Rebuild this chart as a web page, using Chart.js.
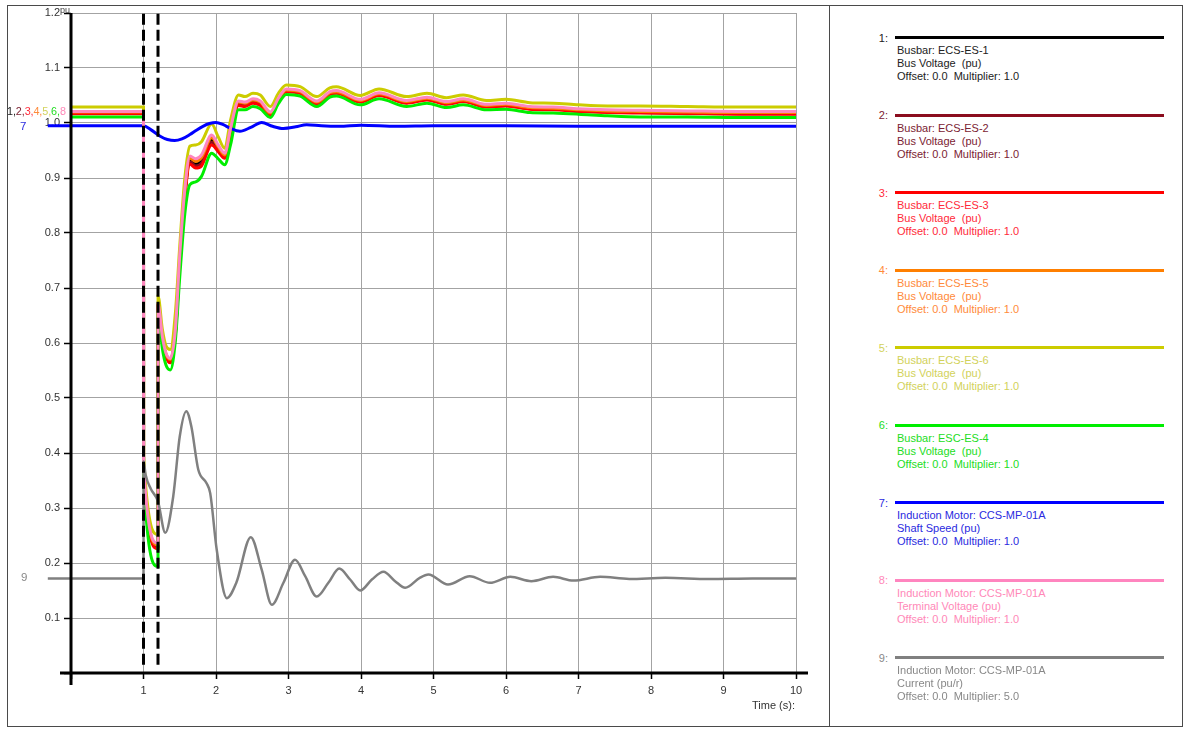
<!DOCTYPE html>
<html>
<head>
<meta charset="utf-8">
<script src="https://cdn.jsdelivr.net/npm/chart.js@4"></script>
<style>
html,body{margin:0;padding:0;background:#fff;}
body{width:1186px;height:729px;position:relative;overflow:hidden;font-family:"Liberation Sans",Arial,Helvetica,sans-serif;}
#frame{position:absolute;left:7px;top:5px;width:1176px;height:722px;border:1px solid #4a4a4a;box-sizing:border-box;}
#divider{position:absolute;left:829px;top:5px;width:1px;height:722px;background:#4a4a4a;}
#c{position:absolute;left:0;top:0;}
.lbl{position:absolute;font-size:11.5px;line-height:14px;white-space:nowrap;}
.grp{position:absolute;font-size:10.8px;line-height:14px;white-space:nowrap;letter-spacing:-0.1px;}
.lg-num{position:absolute;width:20px;text-align:right;font-size:11px;line-height:14px;}
.lg-line{position:absolute;height:3px;}
.lg-text{position:absolute;font-size:11px;line-height:13px;white-space:pre;}
#timeLbl{position:absolute;font-size:11px;color:#333;right:391px;top:699px;white-space:nowrap;}
</style>
</head>
<body>
<div id="frame"></div>
<div id="divider"></div>
<canvas id="c" width="829" height="729"></canvas>
<div id="labels"></div>
<div id="legend"></div>
<div id="timeLbl">Time (s):</div>
<script>
// ---------- DATA ----------
const xTicks = [1,2,3,4,5,6,7,8,9,10];
const yTicks = [0.1,0.2,0.3,0.4,0.5,0.6,0.7,0.8,0.9,1.0,1.1,1.2];

// Bus voltage time base (s)
const tV = [0, 1, 1.001, 1.2, 1.201, 1.26, 1.31, 1.37, 1.44, 1.5,
            1.57, 1.64, 1.72, 1.8, 1.94, 2.03, 2.12, 2.2, 2.31, 2.4,
            2.51, 2.61, 2.75, 2.86, 2.97, 3.16, 3.39, 3.57, 3.66, 3.99,
            4.25, 4.63, 4.91, 5.18, 5.41, 5.73, 6.0, 6.33, 6.65, 7.0,
            7.4, 7.85, 8.5, 9.2, 10];
// 1: Busbar ECS-ES-1 (black)
const v1 = [1.019, 1.019, 0.373, 0.231, 0.668, 0.609, 0.578, 0.568, 0.620, 0.752,
            0.872, 0.932, 0.926, 0.932, 0.969, 0.954, 0.940, 0.985, 1.036, 1.034,
            1.040, 1.036, 1.017, 1.042, 1.059, 1.056, 1.037, 1.054, 1.056, 1.040,
            1.052, 1.038, 1.044, 1.036, 1.041, 1.031, 1.033, 1.027, 1.026, 1.023,
            1.021, 1.020, 1.019, 1.018, 1.018];
// 2: Busbar ECS-ES-2 (dark red)
const v2 = [1.018, 1.018, 0.372, 0.229, 0.667, 0.608, 0.577, 0.566, 0.618, 0.749,
            0.868, 0.929, 0.922, 0.927, 0.965, 0.951, 0.938, 0.983, 1.034, 1.032,
            1.038, 1.034, 1.016, 1.041, 1.058, 1.055, 1.036, 1.053, 1.055, 1.039,
            1.051, 1.037, 1.043, 1.035, 1.040, 1.030, 1.032, 1.026, 1.025, 1.022,
            1.020, 1.019, 1.018, 1.017, 1.017];
// 3: Busbar ECS-ES-3 (red)
const v3 = [1.017, 1.017, 0.370, 0.226, 0.666, 0.606, 0.575, 0.564, 0.615, 0.745,
            0.865, 0.925, 0.918, 0.922, 0.960, 0.948, 0.936, 0.980, 1.032, 1.030,
            1.036, 1.032, 1.014, 1.040, 1.057, 1.054, 1.035, 1.052, 1.054, 1.038,
            1.050, 1.036, 1.042, 1.034, 1.039, 1.029, 1.031, 1.025, 1.024, 1.021,
            1.019, 1.018, 1.017, 1.016, 1.016];
// 4: Busbar ECS-ES-5 (orange)
const v4 = [1.020, 1.020, 0.374, 0.233, 0.669, 0.610, 0.580, 0.570, 0.622, 0.755,
            0.876, 0.936, 0.930, 0.937, 0.973, 0.957, 0.942, 0.987, 1.038, 1.036,
            1.042, 1.038, 1.018, 1.043, 1.060, 1.057, 1.038, 1.055, 1.057, 1.041,
            1.053, 1.039, 1.045, 1.037, 1.042, 1.032, 1.034, 1.028, 1.027, 1.024,
            1.022, 1.021, 1.020, 1.019, 1.019];
// 5: Busbar ECS-ES-6 (yellow)
const v5 = [1.029, 1.029, 0.392, 0.252, 0.685, 0.625, 0.595, 0.588, 0.655, 0.776,
            0.900, 0.958, 0.960, 0.966, 0.998, 0.975, 0.954, 1.005, 1.051, 1.048,
            1.054, 1.051, 1.030, 1.054, 1.069, 1.066, 1.048, 1.064, 1.066, 1.050,
            1.062, 1.048, 1.054, 1.046, 1.051, 1.041, 1.043, 1.037, 1.036, 1.033,
            1.031, 1.031, 1.030, 1.029, 1.029];
// 6: Busbar ESC-ES-4 (green)
const v6 = [1.011, 1.011, 0.355, 0.194, 0.656, 0.590, 0.560, 0.551, 0.605, 0.720,
            0.835, 0.888, 0.893, 0.903, 0.945, 0.935, 0.924, 0.960, 1.024, 1.024,
            1.030, 1.026, 1.010, 1.035, 1.052, 1.049, 1.030, 1.047, 1.049, 1.033,
            1.044, 1.030, 1.036, 1.028, 1.033, 1.024, 1.025, 1.019, 1.018, 1.016,
            1.013, 1.011, 1.011, 1.010, 1.010];
// 8: Motor terminal voltage (pink)
const v8 = [1.021, 1.021, 0.376, 0.236, 0.670, 0.612, 0.582, 0.572, 0.625, 0.760,
            0.880, 0.940, 0.935, 0.942, 0.978, 0.960, 0.945, 0.990, 1.040, 1.038,
            1.044, 1.040, 1.020, 1.045, 1.062, 1.059, 1.040, 1.057, 1.059, 1.043,
            1.055, 1.041, 1.047, 1.039, 1.044, 1.034, 1.036, 1.030, 1.029, 1.026,
            1.024, 1.023, 1.022, 1.021, 1.021];
// 7: Shaft speed (blue)
const tB = [-0.32, 1, 1.1, 1.23, 1.33, 1.43, 1.53, 1.64, 1.73, 1.82,
            1.91, 2.0, 2.1, 2.19, 2.33, 2.48, 2.63, 2.78, 2.93, 3.1,
            3.25, 3.45, 3.7, 4.0, 4.5, 5, 6, 7, 8, 9, 10];
const v7 = [0.995, 0.995, 0.988, 0.976, 0.970, 0.968, 0.971, 0.979, 0.987, 0.994,
            0.999, 1.001, 0.997, 0.991, 0.985, 0.992, 1.001, 0.994, 0.990, 0.993,
            0.997, 0.995, 0.994, 0.996, 0.994, 0.995, 0.995, 0.994, 0.994, 0.994, 0.994];
// 9: Motor current x5 (grey)
const tI = [-0.32, 1, 1.001, 1.03, 1.1, 1.2, 1.3, 1.41, 1.5, 1.59,
            1.66, 1.755, 1.87, 1.92, 2.01, 2.15, 2.28, 2.48, 2.63, 2.77,
            2.93, 3.09, 3.23, 3.39, 3.55, 3.70, 3.85, 3.99, 4.15, 4.31,
            4.47, 4.61, 4.81, 4.93, 5.2, 5.5, 5.78, 6.06, 6.35, 6.65,
            6.93, 7.3, 7.7, 8.2, 8.8, 9.4, 10];
const v9 = [0.172, 0.172, 0.385, 0.360, 0.335, 0.312, 0.255, 0.321, 0.430, 0.476,
            0.448, 0.370, 0.345, 0.327, 0.224, 0.136, 0.164, 0.247, 0.188, 0.124,
            0.164, 0.206, 0.176, 0.139, 0.164, 0.190, 0.170, 0.150, 0.170, 0.184,
            0.167, 0.155, 0.173, 0.179, 0.161, 0.176, 0.164, 0.175, 0.167, 0.175,
            0.168, 0.175, 0.171, 0.173, 0.171, 0.172, 0.172];
// Switching events (s)
const eventTimes = [1.0, 1.2];

// Legend
const legendNums = ['1:','2:','3:','4:','5:','6:','7:','8:','9:'];
const legendTitles = ['Busbar: ECS-ES-1','Busbar: ECS-ES-2','Busbar: ECS-ES-3','Busbar: ECS-ES-5','Busbar: ECS-ES-6','Busbar: ESC-ES-4','Induction Motor: CCS-MP-01A','Induction Motor: CCS-MP-01A','Induction Motor: CCS-MP-01A'];
const legendQty = ['Bus Voltage  (pu)','Bus Voltage  (pu)','Bus Voltage  (pu)','Bus Voltage  (pu)','Bus Voltage  (pu)','Bus Voltage  (pu)','Shaft Speed (pu)','Terminal Voltage (pu)','Current (pu/r)'];
const legendScale = ['Offset: 0.0  Multiplier: 1.0','Offset: 0.0  Multiplier: 1.0','Offset: 0.0  Multiplier: 1.0','Offset: 0.0  Multiplier: 1.0','Offset: 0.0  Multiplier: 1.0','Offset: 0.0  Multiplier: 1.0','Offset: 0.0  Multiplier: 1.0','Offset: 0.0  Multiplier: 1.0','Offset: 0.0  Multiplier: 5.0'];

// ---------- STYLES ----------
const lineColors = ['#000000','#8b0d1e','#ff0000','#ff7f00','#cccc00','#00ee00','#0000ff','#ff85bf','#808080'];
const textColors = ['#222222','#7b2232','#ff2a3a','#ff8a3a','#d2d25a','#22dd22','#2a2ae0','#ff88b8','#888888'];
const FONT = '"Liberation Sans", Arial, Helvetica, sans-serif';

const toPts = (ts, vs) => ts.map((t, i) => ({x: t, y: vs[i]}));
const seriesDefs = [
  {n:1, t:tV, v:v1, w:3},
  {n:2, t:tV, v:v2, w:3},
  {n:3, t:tV, v:v3, w:3},
  {n:4, t:tV, v:v4, w:3},
  {n:5, t:tV, v:v5, w:3},
  {n:6, t:tV, v:v6, w:3},
  {n:7, t:tB, v:v7, w:3},
  {n:8, t:tV, v:v8, w:3},
  {n:9, t:tI, v:v9, w:2.5}
];
const datasets = seriesDefs.map(s => ({
  label: String(s.n),
  data: toPts(s.t, s.v),
  borderColor: lineColors[s.n-1],
  borderWidth: s.w,
  pointRadius: 0,
  fill: false,
  cubicInterpolationMode: 'monotone',
  clip: false,
  order: 10 - s.n
}));
eventTimes.forEach(t => datasets.push({
  label: 'event',
  data: [{x:t, y:0.015}, {x:t, y:1.2}],
  borderColor: '#000',
  borderWidth: 3,
  borderDash: [11, 5],
  pointRadius: 0,
  clip: false,
  order: 0
}));

const axesPlugin = {
  id: 'axesPlugin',
  afterDatasetsDraw(chart) {
    const ctx = chart.ctx;
    const xs = chart.scales.x, ys = chart.scales.y;
    const x0 = xs.getPixelForValue(0), x10 = xs.getPixelForValue(10);
    const y0 = ys.getPixelForValue(0), yTop = ys.getPixelForValue(1.2);
    ctx.save();
    ctx.fillStyle = '#444';
    ctx.font = '9px ' + FONT;
    ctx.textBaseline = 'middle';
    ctx.fillText('pu', x0 - 11, yTop - 2);
    ctx.strokeStyle = '#000';
    ctx.lineWidth = 3;
    ctx.beginPath();
    ctx.moveTo(x0, yTop); ctx.lineTo(x0, y0 + 12);
    ctx.moveTo(x0 - 11, y0); ctx.lineTo(x10 + 12, y0);
    ctx.stroke();
    ctx.restore();
  }
};

new Chart(document.getElementById('c'), {
  type: 'line',
  data: { datasets },
  options: {
    responsive: false,
    animation: false,
    devicePixelRatio: 1,
    layout: { padding: { top: 13, right: 33, bottom: 16, left: 0 } },
    plugins: { legend: { display: false }, tooltip: { enabled: false } },
    scales: {
      x: {
        type: 'linear', min: 0, max: 10,
        afterBuildTicks: s => { s.ticks = [0].concat(xTicks).map(v => ({value: v})); },
        ticks: { color: '#333', font: { size: 11, family: FONT }, padding: 5, maxRotation: 0, autoSkip: false,
                 callback: v => (v === 0 ? '' : String(v)) },
        grid: { color: '#a3a3a3', lineWidth: 1, tickLength: 6, tickColor: '#000', tickWidth: 1.5 },
        border: { display: false },
        afterFit: s => { s.height = 40; }
      },
      y: {
        type: 'linear', min: 0, max: 1.2,
        afterBuildTicks: s => { s.ticks = [0].concat(yTicks).map(v => ({value: v})); },
        ticks: { color: '#333', font: { size: 11, family: FONT }, padding: 4, autoSkip: false,
                 callback: v => (Math.abs(v) < 1e-9 ? '' : Number(v).toFixed(1)) },
        grid: { color: '#a3a3a3', lineWidth: 1, tickLength: 7, tickColor: '#000', tickWidth: 1.5 },
        border: { display: false },
        afterFit: s => { s.width = 71; }
      }
    }
  },
  plugins: [axesPlugin]
});

// ---------- Left series labels ----------
const labels = document.getElementById('labels');
const groupNums = [1,2,3,4,5,6,8];
let html = '<div class="grp" style="left:7px;top:104px;">';
groupNums.forEach((n, i) => {
  html += '<span style="color:' + textColors[n-1] + '">' + n + (i < groupNums.length - 1 ? ',' : '') + '</span>';
});
html += '</div>';
html += '<div class="lbl" style="left:20px;top:119px;color:' + textColors[6] + '">7</div>';
html += '<div class="lbl" style="left:21px;top:570px;color:' + textColors[8] + '">9</div>';
labels.innerHTML = html;

// ---------- Legend ----------
const legend = document.getElementById('legend');
let lh = '';
for (let i = 0; i < legendNums.length; i++) {
  const ly = 37.5 + i * 77.55;
  lh += '<div class="lg-num" style="left:868px;top:' + (ly - 7) + 'px;color:' + textColors[i] + '">' + legendNums[i] + '</div>';
  lh += '<div class="lg-line" style="left:895px;width:269px;top:' + (ly - 1.5) + 'px;background:' + lineColors[i] + '"></div>';
  lh += '<div class="lg-text" style="left:897px;top:' + (ly + 6.5) + 'px;color:' + textColors[i] + '">' +
        legendTitles[i] + '\n' + legendQty[i] + '\n' + legendScale[i] + '</div>';
}
legend.innerHTML = lh;
</script>
</body>
</html>
